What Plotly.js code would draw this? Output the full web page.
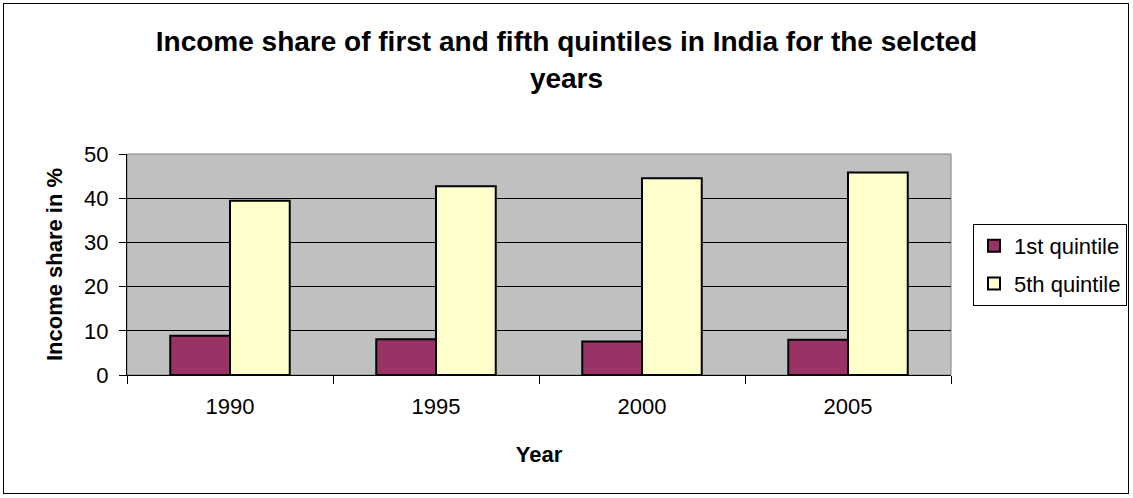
<!DOCTYPE html>
<html>
<head>
<meta charset="utf-8">
<script src="https://cdn.plot.ly/plotly-3.0.1.min.js"></script>
<style>
body{margin:0;padding:0;background:#fff;}
#wrap{position:relative;width:1133px;height:498px;}
#chart{position:absolute;left:0;top:0;width:1133px;height:498px;}
#frame{position:absolute;left:3px;top:3px;width:1126px;height:491px;border:1px solid #000;box-sizing:border-box;pointer-events:none;}
</style>
</head>
<body>
<div id="wrap"><div id="chart"></div><div id="frame"></div></div>
<script>
const years = ['1990', '1995', '2000', '2005'];
const firstQuintile = [8.9, 8.1, 7.6, 8.0];
const fifthQuintile = [39.4, 42.7, 44.5, 45.8];
const seriesNames = ['1st quintile', '5th quintile'];
const yTicks = [0, 10, 20, 30, 40, 50];

const font = 'Arial, "Liberation Sans", sans-serif';

const traces = [
  {type:'bar', name:seriesNames[0], x:years, y:firstQuintile, legendgroup:'a',
   marker:{color:'#993366', line:{color:'#000', width:2}}},
  {type:'bar', name:seriesNames[1], x:years, y:fifthQuintile, legendgroup:'b',
   marker:{color:'#FFFFCC', line:{color:'#000', width:2}}}
];

const layout = {
  width:1133, height:498,
  margin:{l:127, r:182, t:154, b:123, autoexpand:false},
  paper_bgcolor:'rgba(0,0,0,0)',
  plot_bgcolor:'#C0C0C0',
  barmode:'group', bargap:0.42, bargroupgap:0,
  font:{family:font, size:22, color:'#000'},
  title:{text:'<b>Income share of first and fifth quintiles in India for the selcted<br>years</b>',
         font:{family:font, size:28, color:'#000'}, x:0.5, xanchor:'center', y:0.897, yanchor:'top'},
  xaxis:{type:'category', tickson:'boundaries', ticks:'outside', ticklen:8, tickcolor:'#000',
         showline:true, linecolor:'#000', linewidth:1, showgrid:false,
         tickfont:{family:font, size:22}, ticklabelstandoff:12,
         title:{text:'<b>Year</b>', font:{family:font, size:22}, standoff:28}},
  yaxis:{range:[0,50], tickvals:yTicks, ticks:'outside', ticklen:7, tickcolor:'#000',
         showline:true, linecolor:'#000', linewidth:1,
         showgrid:true, gridcolor:'#000', gridwidth:1, zeroline:false,
         tickfont:{family:font, size:22}, ticklabelstandoff:6,
         title:{text:'<b>Income share in %</b>', font:{family:font, size:22}, standoff:15}},
  legend:{x:1.0267, xanchor:'left', y:0.683, yanchor:'top', bordercolor:'#000', borderwidth:1,
          bgcolor:'#fff', font:{family:font, size:22}, traceorder:'grouped', tracegroupgap:6},
  shapes:[{type:'rect', xref:'paper', yref:'paper', x0:0, x1:1, y0:0, y1:1,
           line:{color:'#808080', width:1}, layer:'below'}]
};

Plotly.newPlot('chart', traces, layout, {displayModeBar:false, staticPlot:true});
</script>
</body>
</html>
